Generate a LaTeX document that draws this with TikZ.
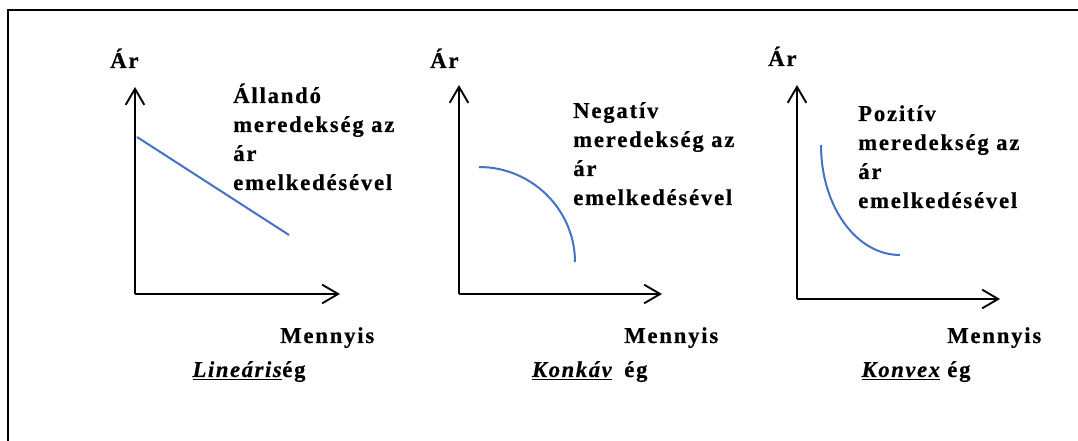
\documentclass[tikz,border=0pt]{standalone}
\usepackage{fontspec}
\setmainfont{Liberation Serif}
\newfontfamily\lblfont[LetterSpace=8, FakeBold=0.6]{Liberation Serif Bold}
\newfontfamily\kindfont[LetterSpace=7, FakeBold=0.6]{Liberation Serif Bold Italic}
\usetikzlibrary{arrows.meta}

\begin{document}
\begin{tikzpicture}[
  x=0.75pt, y=-0.75pt,
  axis/.style={line width=1.4pt, -{Straight Barb[length=12pt, width=14pt, line width=1.4pt]}},
  curve/.style={line width=1.5pt, draw={rgb,255:red,68;green,114;blue,196}},
  lbl/.style={inner sep=0pt, anchor=base west, align=left,
              font=\lblfont\fontsize{17}{21.75}\selectfont},
  kind/.style={lbl, anchor=base east, font=\kindfont\fontsize{17}{21.75}\selectfont}
]
\useasboundingbox (0,0) rectangle (1078,441);
% frame (only top and left edge are visible)
\draw[line width=1.5pt] (7.5,441) -- (7.5,10) -- (1078,10);

% Panel 1: linear
\coordinate (o1) at (135,294);
\coordinate (y1) at (135,87);
\coordinate (x1) at (340,294);
\draw[axis] (o1) -- (y1);
\draw[axis] (o1) -- (x1);
\coordinate (l1a) at (137,137);
\coordinate (l1b) at (289,235);
\draw[curve] (l1a) -- (l1b);
\node[lbl] (ar1) at (110,68) {Ár};
\node[lbl] (txt1) at (233,190) {Állandó\\meredekség az\\ár\\emelkedésével};
\node[lbl] (mq1) at (280,343) {Mennyis};
\node[lbl] (eg1) at (282,377) {ég};
\node[kind] (kind1) at (eg1.base west) {\underline{Lineáris}};

% Panel 2: concave
\coordinate (o2) at (459,294);
\coordinate (y2) at (459,85);
\coordinate (x2) at (662,294);
\draw[axis] (o2) -- (y2);
\draw[axis] (o2) -- (x2);
\coordinate (c2a) at (479,167);
\coordinate (c2b) at (575,262);
\draw[curve] (c2a) .. controls (532,167) and (575,210) .. (c2b);
\node[lbl] (ar2) at (430,68) {Ár};
\node[lbl] (txt2) at (573,205) {Negatív\\meredekség az\\ár\\emelkedésével};
\node[lbl] (mq2) at (624,343) {Mennyis};
\node[lbl] (eg2) at (624,377) {ég};
\node[kind] (kind2) at ([xshift=-9pt]eg2.base west) {\underline{Konkáv}};

% Panel 3: convex
\coordinate (o3) at (797,299);
\coordinate (y3) at (797,85);
\coordinate (x3) at (1000,299);
\draw[axis] (o3) -- (y3);
\draw[axis] (o3) -- (x3);
\coordinate (c3a) at (821,145);
\coordinate (c3b) at (900,255);
\draw[curve] (c3a) .. controls (821,206) and (856,255) .. (c3b);
\node[lbl] (ar3) at (768,66) {Ár};
\node[lbl] (txt3) at (858,208) {Pozitív\\meredekség az\\ár\\emelkedésével};
\node[lbl] (mq3) at (947,343) {Mennyis};
\node[lbl] (eg3) at (947,377) {ég};
\node[kind] (kind3) at ([xshift=-5pt]eg3.base west) {\underline{Konvex}};
\end{tikzpicture}
\end{document}
